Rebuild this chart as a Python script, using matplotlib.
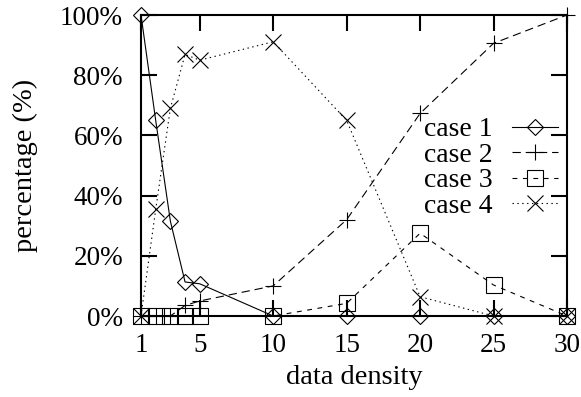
import matplotlib
matplotlib.use("Agg")
import matplotlib.pyplot as plt
from matplotlib.ticker import FuncFormatter

plt.rcParams['font.family'] = ['Liberation Serif', 'DejaVu Serif']
plt.rcParams['lines.scale_dashes'] = False

density = [1, 2, 3, 4, 5, 10, 15, 20, 25, 30]
case1 = [100, 65, 31.5, 11.3, 10.7, 0, 0, 0, 0, 0]
case2 = [0, 0, 0, 3.5, 5, 10, 32, 67.3, 90.6, 100]
case3 = [0, 0, 0, 0, 0, 0, 4.2, 27.5, 10.3, 0]
case4 = [0, 35.4, 69, 86.9, 85, 91.1, 65, 6.4, 0, 0]
labels = ["case 1", "case 2", "case 3", "case 4"]
xticks = [1, 5, 10, 15, 20, 25, 30]
yticks = [0, 20, 40, 60, 80, 100]

fig = plt.figure(figsize=(5.81, 3.97), dpi=100)
ax = fig.add_axes([141/581, 1-316/397, (567-141)/581, (316-15)/397])

lw = 0.8
mew = 0.8
common = dict(color='black', lw=lw, mew=mew, mfc='none', mec='black', clip_on=False)
ax.plot(density, case1, marker='D', ms=8.6, ls='-', label=labels[0], **common)
ax.plot(density, case2, marker='+', ms=12, ls=(0, (6, 3.5)), label=labels[1], **common)
ax.plot(density, case3, marker='s', ms=11.5, ls=(0, (3.5, 4)), label=labels[2], **common)
ax.plot(density, case4, marker='x', ms=12, ls=(0, (1, 2.5)), label=labels[3], **common)

ax.set_xlim(1, 30)
ax.set_ylim(0, 100)
ax.set_xticks(xticks)
ax.set_yticks(yticks)
ax.yaxis.set_major_formatter(FuncFormatter(lambda v, p: f"{int(v)}%"))
ax.tick_params(direction='in', length=11.5, width=1.5, top=True, right=True,
               labelsize=19.5, colors='black')
ax.tick_params(axis='x', pad=12)
ax.tick_params(axis='y', pad=13)
for s in ax.spines.values():
    s.set_linewidth(1.5)
    s.set_zorder(5)

ax.set_xlabel("data density", fontsize=20.5, labelpad=5)
ax.set_ylabel("percentage (%)", fontsize=20.5, labelpad=16)

leg = ax.legend(loc='upper right', bbox_to_anchor=(0.979, 0.661), frameon=False,
                markerfirst=False, fontsize=20, handlelength=1.65, handletextpad=0.72,
                labelspacing=0.0, borderaxespad=0, borderpad=0)
for t in leg.get_texts():
    t.set_ha('right')

fig.savefig("out.png", dpi=100)
